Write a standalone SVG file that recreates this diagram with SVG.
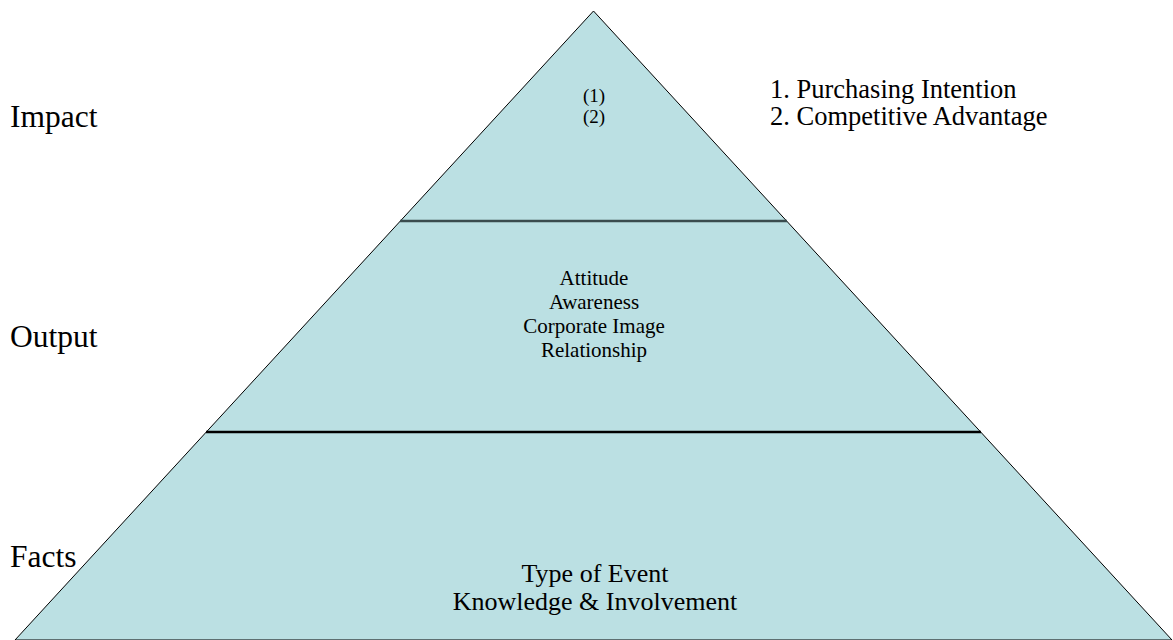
<svg xmlns="http://www.w3.org/2000/svg" width="1173" height="640" viewBox="0 0 1173 640">
<style>
text{font-family:"Liberation Serif","Times New Roman",serif;fill:#000}
.lbl{font-size:31.5px}
.c{text-anchor:middle}
</style>
<rect width="1173" height="640" fill="#fff"/>
<g id="pyramid">
<polygon points="593.5,11 15,640 1172,640" fill="#BBE0E3" stroke="#000" stroke-width="1"/>
</g>
<g id="connectors">
<line x1="400" y1="221" x2="787" y2="221" stroke="#3A4C4E" stroke-width="2.5"/>
<line x1="206" y1="432" x2="981" y2="432" stroke="#000" stroke-width="2.5"/>
</g>
<g id="impact-level">
<text class="c" x="594" y="102" font-size="19">(1)</text>
<text class="c" x="594" y="123" font-size="19">(2)</text>
</g>
<g id="output-level">
<text class="c" x="594" y="285" font-size="21">Attitude</text>
<text class="c" x="594" y="309" font-size="21">Awareness</text>
<text class="c" x="594" y="333" font-size="21">Corporate Image</text>
<text class="c" x="594" y="357" font-size="21">Relationship</text>
</g>
<g id="facts-level">
<text class="c" x="595" y="582" font-size="26">Type of Event</text>
<text class="c" x="595" y="610" font-size="26">Knowledge &amp; Involvement</text>
</g>
<g id="legend">
<text x="770" y="98" font-size="26.5">1. Purchasing Intention</text>
<text x="770" y="125" font-size="26.5">2. Competitive Advantage</text>
</g>
<g id="labels">
<text class="lbl" x="10" y="127">Impact</text>
<text class="lbl" x="10" y="347">Output</text>
<text class="lbl" x="10" y="567">Facts</text>
</g>
</svg>
